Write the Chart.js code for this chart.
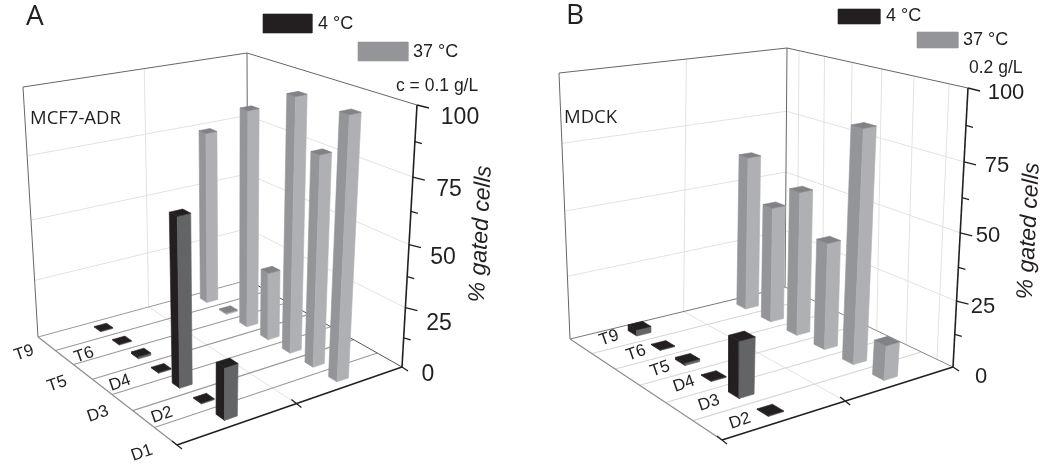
<!DOCTYPE html>
<html><head><meta charset="utf-8">
<style>html,body{margin:0;padding:0;background:#fff}canvas{display:block}</style>
<script src="https://cdn.jsdelivr.net/npm/chart.js@4"></script>
</head><body><canvas id="c" width="1050" height="467"></canvas>
<script>
// ---- data ----
const rowsA = ['T9','T6','T5','D4','D3','D2','D1'];
const coldA = [0.4,0.4,1,0.4,67,0.4,21];
const warmA = [74,0.6,89,29,100,83,100];
const rowsB = ['T9','T6','T5','D4','D3','D2'];
const coldB = [2.5,0.3,1,0.3,21,0.3];
const warmB = [62,46,56,41,86,13];
const yTicks = [0,25,50,75,100];
const yMinor = [12.5,37.5,62.5,87.5];
const seriesNames = ['4 °C','37 °C'];
const yTitle = '% gated cells';

// ---- panel geometry ----
const panelA = {
  F:[177,445],R:[402,367],B:[248,280],L:[38,337],
  Ft:[172,160],Rt:[417,105],Bt:[247,53],Lt:[23,87],k:1.14,
  du:.027,dv:.025,uCold:.25,uWarm:.75,rowLine:'#9a9a9a',edgeRB:'#555',edgeLB:'#999',edgeFL:'#8c8c8c',wallV:false,
  rows:rowsA,cold:coldA,warm:warmA,
  name:'A',nameAt:[26,25],cell:'MCF7-ADR',cellAt:[30,119],conc:'c = 0.1 g/L',concAt:[396,86],concSize:17.5,
  swatchCold:[263,14,49,19],swatchWarm:[358,42,50,19],coldAt:[318,24],warmAt:[413,52],legSize:18,
  tickAt:[[428,375],[439,324],[443,258],[449,190],[460,118]],tickSize:23,
  rowAt:[[24,353],[84,355],[57,384],[120,383],[98,414],[162,415],[142,453]],
  titleAt:[481,234],
};
const panelB = {
  F:[722,440],R:[953,367],B:[785,287],L:[570,339],
  Ft:[721,137],Rt:[968,88],Bt:[787,48],Lt:[559,73],k:1.08,
  du:.031,dv:.031,uCold:.25,uWarm:.75,rowLine:'#d6d6d6',edgeRB:'#888',edgeLB:'#777',edgeFL:'#8c8c8c',wallV:true,
  rows:rowsB,cold:coldB,warm:warmB,
  name:'B',nameAt:[566,24],cell:'MDCK',cellAt:[564,118],conc:'0.2 g/L',concAt:[969,68],concSize:17.5,
  swatchCold:[838,9,42,15],swatchWarm:[917,32,41,16],coldAt:[886,16],warmAt:[963,40],legSize:18,
  tickAt:[[981,377],[983,307],[988,236],[997,166],[1006,93]],tickSize:22,
  rowAt:[[609,338],[636,353],[660,369],[684,384],[709,403],[740,421]],
  titleAt:[1029,231],
};
const COL = {coldL:'#231f20',coldR:'#636466',coldT:'#231f20',warmL:'#939598',warmR:'#aeb0b3',warmT:'#808285',grid:'#e2e2e2'};

function homography(p0,p1,p2,p3){
  const dx1=p1[0]-p2[0],dx2=p3[0]-p2[0],dx3=p0[0]-p1[0]+p2[0]-p3[0];
  const dy1=p1[1]-p2[1],dy2=p3[1]-p2[1],dy3=p0[1]-p1[1]+p2[1]-p3[1];
  const den=dx1*dy2-dx2*dy1;
  const g=(dx3*dy2-dx2*dy3)/den,h=(dx1*dy3-dx3*dy1)/den;
  const a=p1[0]-p0[0]+g*p1[0],b=p3[0]-p0[0]+h*p3[0],c=p0[0];
  const d=p1[1]-p0[1]+g*p1[1],e=p3[1]-p0[1]+h*p3[1],f=p0[1];
  return (u,v)=>{const w=g*u+h*v+1;return [(a*u+b*v+c)/w,(d*u+e*v+f)/w];};
}
function projector(p){
  const lo=homography(p.F,p.R,p.B,p.L),hi=homography(p.Ft,p.Rt,p.Bt,p.Lt);
  return (u,v,val)=>{
    const t0=val/100,t=t0/(t0+(1-t0)*p.k);
    const a=lo(u,v),b=hi(u,v);
    return {x:a[0]+(b[0]-a[0])*t,y:a[1]+(b[1]-a[1])*t};
  };
}
const list=[];
function poly(pts,color,close){list.push({data:close?pts.concat([pts[0]]):pts,showLine:true,pointRadius:0,borderColor:color,borderWidth:.6,fill:close?'shape':false,backgroundColor:color,tension:0,clip:false,order:0});}
function line(a,b,color,w){list.push({data:[a,b],showLine:true,pointRadius:0,borderColor:color,borderWidth:w||1,fill:false,tension:0,clip:false});}

function buildPanel(p){
  const P=projector(p),n=p.rows.length;
  // walls
  for(const t of yTicks.slice(1,4)){
    line(P(0,1,t),P(1,1,t),COL.grid);
    line(P(1,1,t),P(1,0,t),COL.grid);
  }
  line(P(.5,1,0),P(.5,1,100),COL.grid);
  if(p.wallV) for(let i=0;i<n;i++) line(P(1,(i+.5)/n,0),P(1,(i+.5)/n,100),COL.grid);
  line(P(0,1,0),P(0,1,100),'#666');
  line(P(1,1,0),P(1,1,100),'#666');
  line(P(0,1,100),P(1,1,100),'#666');
  line(P(1,1,100),P(1,0,100),'#666');
  // floor
  line(P(.5,0,0),P(.5,1,0),COL.grid);
  for(let i=1;i<n;i++) line(P(0,i/n,0),P(1,i/n,0),p.rowLine,1.1);
  line(P(0,1,0),P(1,1,0),p.edgeLB,1);
  line(P(1,0,0),P(1,1,0),p.edgeRB,1);
  line(P(0,0,0),P(0,1,0),p.edgeFL,1.2);
  // bars, farthest first
  const bars=[];
  p.rows.forEach((r,i)=>{
    const v=(n-1-i+.5)/n;
    bars.push({u:p.uCold,v,val:p.cold[i],L:COL.coldL,R:COL.coldR,T:COL.coldT});
    bars.push({u:p.uWarm,v,val:p.warm[i],L:COL.warmL,R:COL.warmR,T:COL.warmT});
  });
  bars.sort((a,b)=>(b.u+b.v)-(a.u+a.v));
  for(const b of bars){
    const u0=b.u-p.du,u1=b.u+p.du,v0=b.v-p.dv,v1=b.v+p.dv;
    poly([P(u0,v1,0),P(u0,v0,0),P(u0,v0,b.val),P(u0,v1,b.val)],b.L,true);
    poly([P(u0,v0,0),P(u1,v0,0),P(u1,v0,b.val),P(u0,v0,b.val)],b.R,true);
    poly([P(u0,v0,b.val),P(u1,v0,b.val),P(u1,v1,b.val),P(u0,v1,b.val)],b.T,true);
  }
  // axes
  line(P(0,0,0),P(1,0,0),'#231f20',1.6);
  line(P(1,0,0),P(1,0,100),'#231f20',1.6);
  const off=(a,dx,dy)=>({x:a.x+dx,y:a.y+dy});
  for(const t of yTicks){const a=P(1,0,t);line(a,off(a,t===0?6:12,t===0?4:3),'#231f20',1.3);}
  for(const t of yMinor){const a=P(1,0,t);line(a,off(a,7,2),'#231f20',1.3);}
  for(const u of [0,.5]){const a=P(u,0,0);line(off(a,-5,-4),off(a,5,4),'#231f20',1.3);}
  // legend swatches
  for(const [s,c] of [[p.swatchCold,COL.coldL],[p.swatchWarm,COL.warmL]]){
    const [x,y,w,h]=s;
    poly([{x,y},{x:x+w,y},{x:x+w,y:y+h},{x,y:y+h}],c,true);
  }
}
buildPanel(panelA);buildPanel(panelB);
list.reverse(); // Chart.js paints the first dataset last

const SANS='"Liberation Sans",Arial,sans-serif',HUM='"Open Sans","Noto Sans",sans-serif';
function txt(ctx,s,x,y,font,rot,align){
  ctx.save();ctx.translate(x,y);ctx.rotate((rot||0)*Math.PI/180);
  ctx.font=font;ctx.fillStyle='#231f20';ctx.textAlign=align||'center';ctx.textBaseline='middle';
  ctx.fillText(s,0,0);ctx.restore();
}
const labels={id:'labels',afterDatasetsDraw(ch){
  const c=ch.ctx;
  for(const p of [panelA,panelB]){
    txt(c,p.name,p.nameAt[0],p.nameAt[1]-8,'28px '+HUM,0,'left');
    txt(c,p.cell,p.cellAt[0],p.cellAt[1],'18.5px '+HUM,0,'left');
    txt(c,p.conc,p.concAt[0],p.concAt[1],p.concSize+'px '+SANS,0,'left');
    txt(c,seriesNames[0],p.coldAt[0],p.coldAt[1],p.legSize+'px '+SANS,0,'left');
    txt(c,seriesNames[1],p.warmAt[0],p.warmAt[1],p.legSize+'px '+SANS,0,'left');
    yTicks.forEach((t,i)=>txt(c,String(t),p.tickAt[i][0],p.tickAt[i][1],p.tickSize+'px '+SANS));
    p.rows.forEach((r,i)=>txt(c,r,p.rowAt[i][0],p.rowAt[i][1],'17px '+SANS,-19));
    txt(c,yTitle,p.titleAt[0],p.titleAt[1],'italic 23px '+SANS,-87);
  }
}};
new Chart(document.getElementById('c'),{
  type:'scatter',
  data:{datasets:list},
  options:{responsive:false,animation:false,events:[],
    layout:{padding:0},
    scales:{x:{type:'linear',min:0,max:1050,display:false},y:{type:'linear',min:0,max:467,reverse:true,display:false}},
    plugins:{legend:{display:false},tooltip:{enabled:false},title:{display:false}}},
  plugins:[labels]
});
</script></body></html>
